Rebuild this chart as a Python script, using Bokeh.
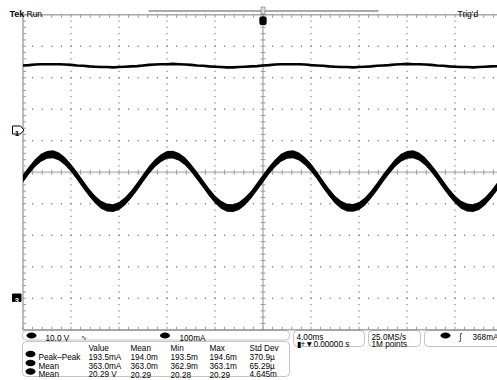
from bokeh.plotting import figure
from bokeh.models import BoxAnnotation
from bokeh.embed import file_html
from bokeh.resources import INLINE
from bokeh.core.properties import value

# ---------------- data (time in ms, 4 ms/div; traces in screen divisions) ----------------
time_ms = [round(-20 + 0.5 * i, 1) for i in range(81)]

# Ch1 current trace (band centre) in divisions
current_div = [
    -0.20, 0.06, 0.29, 0.46, 0.55, 0.57, 0.50, 0.35, 0.14, -0.11,
    -0.38, -0.64, -0.86, -1.03, -1.12, -1.14, -1.07, -0.92, -0.71, -0.46,
    -0.19, 0.07, 0.29, 0.45, 0.55, 0.56, 0.49, 0.35, 0.14, -0.11,
    -0.37, -0.63, -0.86, -1.03, -1.13, -1.14, -1.07, -0.92, -0.72, -0.46,
    -0.20, 0.06, 0.28, 0.46, 0.55, 0.57, 0.50, 0.35, 0.15, -0.10,
    -0.38, -0.64, -0.87, -1.03, -1.12, -1.13, -1.07, -0.93, -0.71, -0.46,
    -0.19, 0.06, 0.29, 0.46, 0.55, 0.57, 0.50, 0.35, 0.14, -0.11,
    -0.38, -0.64, -0.86, -1.03, -1.12, -1.14, -1.07, -0.92, -0.71, -0.46,
    -0.20,
]
# Ch3 voltage trace in divisions
voltage_div = [
    3.39, 3.40, 3.42, 3.43, 3.43, 3.43, 3.43, 3.42, 3.41, 3.39,
    3.38, 3.36, 3.35, 3.34, 3.34, 3.33, 3.34, 3.35, 3.36, 3.37,
    3.39, 3.41, 3.42, 3.43, 3.43, 3.44, 3.43, 3.42, 3.41, 3.39,
    3.38, 3.36, 3.35, 3.34, 3.33, 3.33, 3.34, 3.35, 3.36, 3.37,
    3.39, 3.40, 3.42, 3.43, 3.43, 3.43, 3.43, 3.42, 3.40, 3.39,
    3.38, 3.36, 3.35, 3.34, 3.34, 3.33, 3.34, 3.35, 3.36, 3.38,
    3.39, 3.40, 3.42, 3.43, 3.44, 3.43, 3.43, 3.42, 3.41, 3.39,
    3.38, 3.36, 3.35, 3.34, 3.34, 3.33, 3.34, 3.35, 3.36, 3.37,
    3.39,
]
ch1_ground_div = 1.365
ch3_ground_div = -3.97

status_scales = ["10.0 V", "100mA"]
timebase_text = ["4.00ms", "\u25ae+\u25bc0.00000 s"]
acq_text = ["25.0MS/s", "1M points"]
trig_level_text = "368mA"
meas_header = ["Value", "Mean", "Min", "Max", "Std Dev"]
meas_names = ["Peak\u2013Peak", "Mean", "Mean"]
meas_value = ["193.5mA", "363.0mA", "20.29 V"]
meas_mean = ["194.0m", "363.0m", "20.29"]
meas_min = ["193.5m", "362.9m", "20.28"]
meas_max = ["194.6m", "363.1m", "20.29"]
meas_std = ["370.9\u00b5", "65.29\u00b5", "4.645m"]

# ---------------- layout helpers ----------------
W, H = 497, 380
PX0, PPX = 262.5, 12.0     # screen column of t=0, px per ms
PY0, PPY = 171.75, 31.5    # screen row of 0 div, px per div


def X(px):
    return (px - PX0) / PPX


def Y(py):
    return (PY0 - py) / PPY


FONT = value("Liberation Sans")
GRID = "#9a9a9a"

p = figure(width=W, height=H, x_range=(X(0), X(W)), y_range=(Y(H), Y(0)),
           x_axis_type=None, y_axis_type=None, min_border=0,
           toolbar_location=None, output_backend="svg",
           outline_line_color=None, background_fill_color="white",
           border_fill_color="white")

# ---------------- graticule ----------------
dot_x, dot_y = [], []
for gy in [-4, -3, -2, -1, 1, 2, 3, 4]:
    for k in range(51):
        dot_x.append(-20 + 0.8 * k)
        dot_y.append(gy)
for gx in [-16, -12, -8, -4, 4, 8, 12, 16]:
    for k in range(51):
        dot_x.append(gx)
        dot_y.append(-5 + 0.2 * k)
p.scatter(dot_x, dot_y, marker="square", size=1.3, fill_color="#8c8c8c", line_color=None)

# centre cross
p.segment(x0=[-20, 0], y0=[0, -5], x1=[20, 0], y1=[0, 5], line_color="#c8c8c8", line_width=2)
# border
p.segment(x0=[-20, -20, -20], y0=[-5, 5, -5], x1=[-20, 20, 20], y1=[5, 5, -5],
          line_color="#a8a8a8", line_width=1.5)

tx0, ty0, tx1, ty1 = [], [], [], []
tl_y = 3.0 / PPY
tl_x = 3.0 / PPX
for k in range(51):
    xv = -20 + 0.8 * k
    yv = -5 + 0.2 * k
    tx0 += [xv, xv]; ty0 += [5, -5]; tx1 += [xv, xv]; ty1 += [5 - tl_y, -5 + tl_y]
    tx0.append(-20); ty0.append(yv); tx1.append(-20 + tl_x); ty1.append(yv)
    tx0.append(xv); ty0.append(-2.5 / PPY); tx1.append(xv); ty1.append(2.5 / PPY)
    tx0.append(-2.5 / PPX); ty0.append(yv); tx1.append(2.5 / PPX); ty1.append(yv)
p.segment(x0=tx0, y0=ty0, x1=tx1, y1=ty1, line_color=GRID, line_width=1)

# ---------------- traces ----------------
band_half = 0.125
p.varea(x=time_ms, y1=[c - band_half for c in current_div],
        y2=[c + band_half for c in current_div], fill_color="black")
p.line(time_ms, voltage_div, line_color="black", line_width=2.6)

# channel ground markers
p.patch([X(12), X(20), X(23.5), X(20), X(12)],
        [Y(125.5), Y(125.5), Y(129.5), Y(133.5), Y(133.5)],
        fill_color="white", line_color="black", line_width=1)
p.text([X(16.5)], [Y(132.6)], text=["1"], text_font=FONT, text_font_size="8px",
       text_font_style="bold", text_align="center", text_baseline="alphabetic",
       text_color="black")
p.patch([X(12), X(20.5), X(20.5), X(12)], [Y(293.5), Y(293.5), Y(301), Y(301)],
        fill_color="black", line_color="black")
p.text([X(16.3)], [Y(300)], text=["3"], text_font=FONT, text_font_size="7.5px",
       text_align="center", text_baseline="alphabetic", text_color="white",
       text_font_style="bold")

# ---------------- top status line ----------------
p.segment(x0=[X(148)], y0=[Y(10.5)], x1=[X(378)], y1=[Y(10.5)], line_color="#555555", line_width=1)
p.text([X(9)], [Y(13.5)], text=["Tek"], text_font=FONT, text_font_size="9px",
       text_font_style="bold", text_baseline="alphabetic", text_color="black")
p.text([X(26)], [Y(13.5)], text=["Run"], text_font=FONT, text_font_size="8.5px",
       text_baseline="alphabetic", text_color="black")
p.text([X(457)], [Y(13)], text=["Trig'd"], text_font=FONT, text_font_size="8.5px",
       text_baseline="alphabetic", text_color="black")
p.add_layout(BoxAnnotation(left=X(260.5), right=X(264.5), top=Y(6.5), bottom=Y(13.5),
                           fill_color="#dddddd", fill_alpha=1, line_color="black", line_width=1))
p.add_layout(BoxAnnotation(left=X(259), right=X(266), top=Y(16), bottom=Y(24.5),
                           fill_color="black", fill_alpha=1, line_color="black", border_radius=2))
p.text([X(262.6)], [Y(23)], text=["T"], text_font=FONT, text_font_size="7px",
       text_font_style="bold", text_align="center", text_baseline="alphabetic", text_color="white")

# ---------------- bottom readout boxes ----------------
def rbox(l, r, t, b):
    p.add_layout(BoxAnnotation(left=X(l), right=X(r), top=Y(t), bottom=Y(b),
                               fill_alpha=0, line_color="#3a3a3a", line_width=1,
                               border_radius=4))


rbox(22, 289, 330, 339.5)
rbox(22, 289, 341, 376)
rbox(293, 364, 330, 346)
rbox(368, 420, 330, 346)
rbox(424, 530, 330, 346)

p.ellipse(x=[X(31), X(164.5), X(445)], y=[Y(335), Y(335), Y(335)],
          width=10 / PPX, height=6 / PPY, fill_color="black", line_color=None)
p.ellipse(x=[X(30), X(30), X(30)], y=[Y(353.5), Y(362.5), Y(371)],
          width=10 / PPX, height=6.5 / PPY, fill_color="black", line_color=None)

small = dict(text_font=FONT, text_font_size="8.2px", text_baseline="alphabetic", text_color="black")
p.text([X(45), X(179)], [Y(337.8), Y(337.8)], text=status_scales, **small)
p.text([X(80)], [Y(337)], text=["\u223f"], text_font=FONT, text_font_size="7px",
       text_baseline="alphabetic", text_color="black")

p.text([X(296), X(296)], [Y(336.8), Y(344)], text=timebase_text, **small)
p.text([X(371), X(371)], [Y(336.8), Y(344)], text=acq_text, **small)
p.text([X(459)], [Y(337)], text=["\u0283"], **small)
p.text([X(472)], [Y(336.8)], text=[trig_level_text], **small)

col_x = [88, 130, 170, 209, 249]
row_y = [356.8, 365.5, 374]
p.text([X(c) for c in col_x], [Y(347.6)] * 5, text=meas_header, **small)
p.text([X(38)] * 3, [Y(r) for r in row_y], text=meas_names, **small)
for cx, col in zip(col_x, [meas_value, meas_mean, meas_min, meas_max, meas_std]):
    p.text([X(cx)] * 3, [Y(r) for r in row_y], text=col, **small)

open("out.html", "w").write(file_html(p, INLINE))
